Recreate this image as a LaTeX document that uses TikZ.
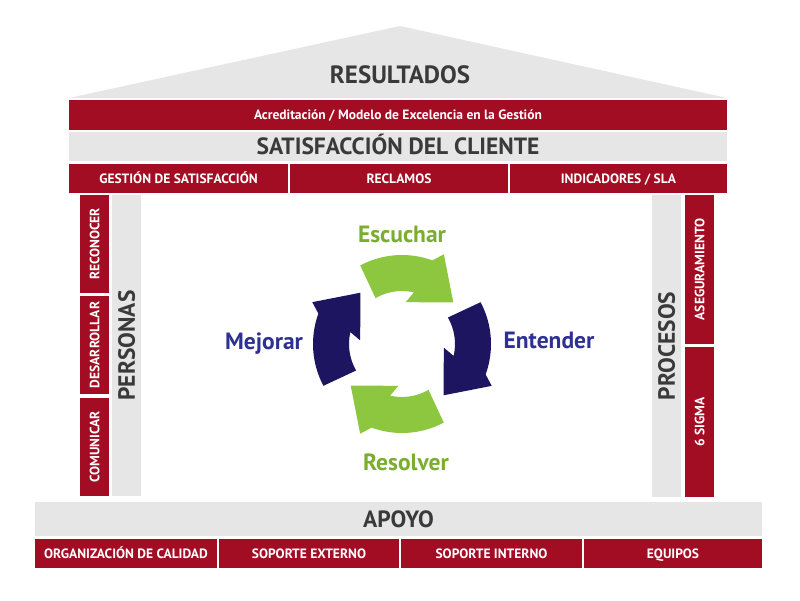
\documentclass[tikz,border=0pt]{standalone}
\usepackage{fontspec}
\setmainfont{PT Sans}
\usepackage{tikz}
\usetikzlibrary{positioning}
\definecolor{casaRojo}{HTML}{A30D23}
\definecolor{casaGris}{HTML}{E6E6E6}
\definecolor{casaTexto}{HTML}{3A3A3A}
\definecolor{cicloVerde}{HTML}{8DC63F}
\definecolor{cicloAzul}{HTML}{1D1560}
\definecolor{textoVerde}{HTML}{7AAE2F}
\definecolor{textoAzul}{HTML}{2E3192}
\newcommand{\casaTecho}{\fontsize{25}{25}\selectfont\bfseries}
\newcommand{\casaGrande}{\fontsize{23.5}{23.5}\selectfont\bfseries}
\newcommand{\casaChica}{\fontsize{13.5}{13.5}\selectfont\bfseries}
\newcommand{\casaLema}{\fontsize{13.5}{13.5}\selectfont\bfseries}
\newcommand{\cicloFuente}{\fontsize{23.5}{23.5}\selectfont\bfseries}

\begin{document}
\begin{tikzpicture}[x=1pt, y=-1pt,
		banda/.style={fill=casaGris, text=casaTexto, inner sep=0pt, font=\casaGrande, text height=16.5pt, text depth=0pt},
		caja/.style={fill=casaRojo, text=white, inner sep=0pt, font=\casaChica, text height=9.5pt, text depth=0pt},
		etiqueta/.style={inner sep=0pt, anchor=base, font=\cicloFuente}]
	\path[fill=white, use as bounding box] (0,0) rectangle (800,600);
	% techo
	\fill[casaGris] (69,98) -- (400,26) -- (727,98) -- cycle;
	\node[inner sep=0pt, text=casaTexto, font=\casaTecho, text height=17.5pt, text depth=0pt] (resultados) at (400,75) {RESULTADOS};
	\node[caja, font=\casaLema, minimum width=658pt, minimum height=30pt] (acreditacion) at (398,115) {Acreditación / Modelo de Excelencia en la Gestión};
	\node[banda, minimum width=658pt, minimum height=29pt] (satisfaccion) at (398,146.5) {SATISFACCIÓN DEL CLIENTE};
	\node[caja, minimum width=219pt, minimum height=29pt] (gestion) at (178.5,178.5) {GESTIÓN DE SATISFACCIÓN};
	\node[caja, minimum width=218pt, minimum height=29pt] (reclamos) at (399,178.5) {RECLAMOS};
	\node[caja, minimum width=217pt, minimum height=29pt] (indicadores) at (618.5,178.5) {INDICADORES / SLA};
	% columna personas
	\node[caja, rotate=90, minimum width=98pt, minimum height=29pt] (reconocer) at (94.5,244) {RECONOCER};
	\node[caja, rotate=90, minimum width=98pt, minimum height=29pt] (desarrollar) at (94.5,345) {DESARROLLAR};
	\node[caja, rotate=90, minimum width=98pt, minimum height=29pt] (comunicar) at (94.5,447) {COMUNICAR};
	\node[banda, rotate=90, minimum width=301pt, minimum height=29pt] (personas) at (126.5,345.5) {PERSONAS};
	% columna procesos
	\node[banda, rotate=90, minimum width=302pt, minimum height=29pt] (procesos) at (666.5,346) {PROCESOS};
	\node[caja, rotate=90, minimum width=149pt, minimum height=29pt] (aseguramiento) at (699.5,269.5) {ASEGURAMIENTO};
	\node[caja, rotate=90, minimum width=150pt, minimum height=29pt] (sigma) at (699.5,422) {6 SIGMA};
	% base
	\node[banda, minimum width=727pt, minimum height=34pt] (apoyo) at (398.5,519) {APOYO};
	\node[caja, minimum width=182pt, minimum height=29pt] (organizacion) at (126,553.5) {ORGANIZACIÓN DE CALIDAD};
	\node[caja, minimum width=180pt, minimum height=29pt] (externo) at (309,553.5) {SOPORTE EXTERNO};
	\node[caja, minimum width=181pt, minimum height=29pt] (interno) at (491.5,553.5) {SOPORTE INTERNO};
	\node[caja, minimum width=178pt, minimum height=29pt] (equipos) at (673,553.5) {EQUIPOS};
	% ciclo
	\begin{scope}[shift={(402,344)}, x=1pt, y=1pt]
		\foreach \giro/\tono in {0/cicloVerde, -90/cicloAzul, -180/cicloVerde, -270/cicloAzul}
			\fill[\tono, rotate=\giro] (118:89) arc[start angle=118, end angle=70, radius=89]
				-- (65:99) -- (39:66) -- (85:42) -- (77:53) arc[start angle=77, end angle=120, radius=53] -- cycle;
	\end{scope}
	\node[etiqueta, text=textoVerde] (escuchar) at (402,242) {Escuchar};
	\node[etiqueta, text=textoAzul] (entender) at (549,348) {Entender};
	\node[etiqueta, text=textoVerde] (resolver) at (406,470) {Resolver};
	\node[etiqueta, text=textoAzul] (mejorar) at (264,349) {Mejorar};
\end{tikzpicture}
\end{document}
